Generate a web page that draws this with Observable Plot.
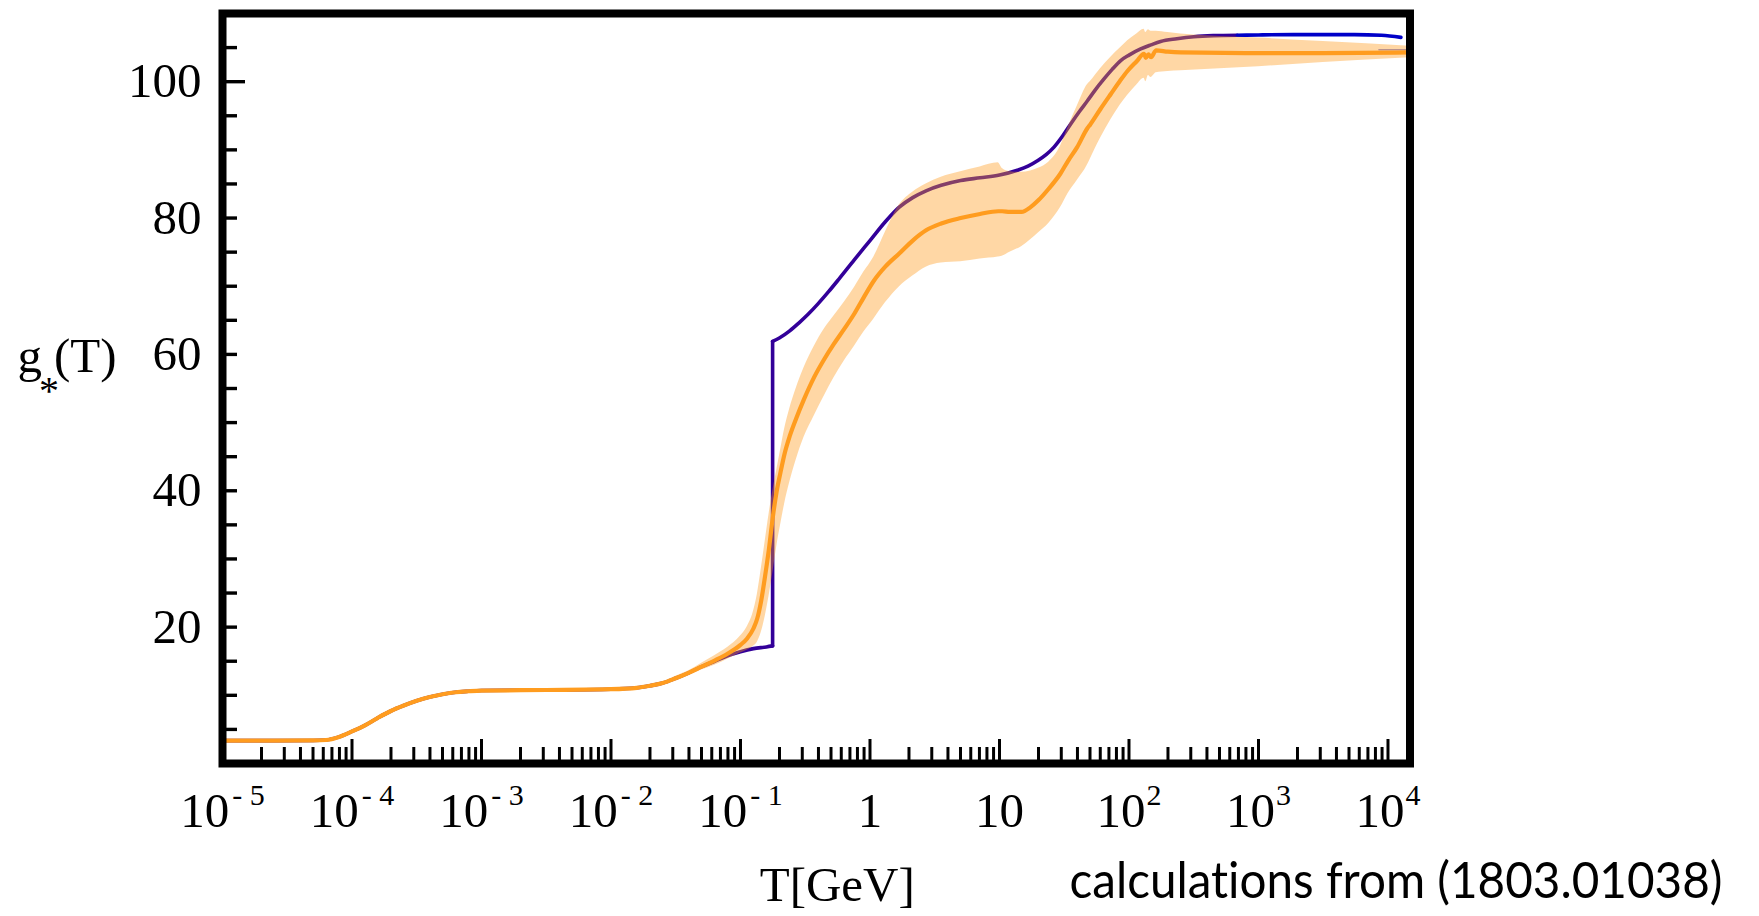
<!DOCTYPE html>
<html>
<head>
<meta charset="utf-8">
<script src="https://cdn.jsdelivr.net/npm/d3@7"></script>
<script src="https://cdn.jsdelivr.net/npm/@observablehq/plot@0.6"></script>
<style>
  html, body { margin: 0; padding: 0; background: #fff; }
  #chart { width: 1759px; height: 916px; }
</style>
</head>
<body>
<div id="chart"></div>
<script>
// Effective number of relativistic degrees of freedom g*(T) versus temperature.
// Standard Model curve with a sharp QCD step, and the lattice-based estimate with its band.

// Standard Model curve (log10 T in GeV, g*) – the repeated temperature is the QCD jump
const blueLogT = [-5.0, -4.6, -4.3, -4.2, -4.1, -4.0, -3.9, -3.8, -3.7, -3.6, -3.5, -3.4, -3.3, -3.2, -3.1, -3.0,
  -2.5, -2.0, -1.8, -1.7, -1.6, -1.5, -1.4, -1.3, -1.2, -1.1, -1.0, -0.9, -0.8, -0.752, -0.752,
  -0.70, -0.62, -0.55, -0.48, -0.40, -0.32, -0.24, -0.12, 0.0, 0.12, 0.226, 0.33, 0.433, 0.55, 0.70, 0.85,
  1.0, 1.138, 1.22, 1.293, 1.36, 1.421, 1.49, 1.55, 1.62, 1.679, 1.74, 1.807, 1.87, 1.936, 2.0, 2.09,
  2.17, 2.244, 2.37, 2.50, 2.65, 2.836];
const blueG = [3.36, 3.36, 3.38, 3.45, 3.9, 4.7, 5.6, 6.7, 7.7, 8.5, 9.2, 9.75, 10.15, 10.45, 10.6, 10.7,
  10.78, 10.9, 11.1, 11.4, 11.8, 12.5, 13.3, 14.2, 15.0, 15.8, 16.4, 16.85, 17.1, 17.25, 61.9,
  62.4, 63.45, 64.6, 65.85, 67.45, 69.2, 71.05, 73.9, 76.7, 79.5, 81.6, 83.0, 84.0, 84.8, 85.5, 85.9,
  86.3, 87.0, 87.6, 88.4, 89.3, 90.4, 92.1, 93.8, 95.7, 97.2, 98.8, 100.4, 101.8, 103.1, 103.9, 104.8,
  105.4, 105.9, 106.3, 106.6, 106.75, 106.8];

// High-temperature continuation of the Standard Model curve
const blueHighLogT = [2.836, 3.0, 3.27, 3.5, 3.74, 3.95, 4.1];
const blueHighG = [106.8, 106.85, 106.9, 106.9, 106.9, 106.8, 106.5];

// Short faint segment near the top end
const tailLogT = [3.93, 4.17];
const tailG = [104.7, 104.7];

// Lattice-based estimate: central value and lower/upper edges of the band
const orangeLogT = [-5.0, -4.6, -4.3, -4.2, -4.1, -4.0, -3.9, -3.8, -3.7, -3.6, -3.5, -3.4, -3.3, -3.2, -3.1, -3.0,
  -2.5, -2.0, -1.8, -1.7, -1.6, -1.5, -1.4, -1.3, -1.2, -1.1, -1.0, -0.95, -0.90, -0.87, -0.84, -0.81,
  -0.78, -0.75, -0.72, -0.69, -0.66, -0.62, -0.57, -0.51, -0.43, -0.35, -0.28, -0.20, -0.12, -0.05,
  0.03, 0.12, 0.226, 0.33, 0.433, 0.55, 0.70, 0.85, 0.99, 1.02, 1.08, 1.17, 1.24, 1.30, 1.38, 1.47,
  1.53, 1.60, 1.68, 1.70, 1.78, 1.86, 1.93, 1.99, 2.06, 2.116, 2.13, 2.15, 2.17, 2.21, 2.30, 2.40,
  3.0, 3.5, 4.17];
const orangeMid = [3.36, 3.36, 3.38, 3.45, 3.9, 4.7, 5.6, 6.7, 7.7, 8.5, 9.2, 9.75, 10.15, 10.45, 10.6, 10.7,
  10.78, 10.9, 11.1, 11.4, 11.8, 12.5, 13.3, 14.2, 15.1, 16.1, 17.4, 18.3, 19.8, 21.3, 23.9, 27.5,
  31.5, 36.2, 40.0, 42.8, 45.4, 48.0, 50.6, 53.4, 56.7, 59.4, 61.5, 63.7, 66.0, 68.3,
  70.8, 72.9, 74.8, 76.7, 78.2, 79.2, 80.0, 80.6, 81.0, 81.0, 80.9, 80.9, 81.6, 82.6, 84.3, 86.5,
  88.4, 90.4, 93.2, 93.7, 96.0, 98.2, 100.1, 101.6, 103.0, 104.1, 103.5, 104.0, 103.6, 104.6, 104.4, 104.3,
  104.2, 104.2, 104.3];
const orangeLo = [3.36, 3.36, 3.38, 3.45, 3.9, 4.7, 5.6, 6.7, 7.7, 8.5, 9.2, 9.75, 10.15, 10.45, 10.6, 10.7,
  10.78, 10.9, 11.05, 11.3, 11.6, 12.2, 13.0, 13.7, 14.4, 15.3, 16.2, 16.6, 17.2, 17.8, 19.2, 21.5,
  24.5, 28.0, 31.8, 35.0, 38.0, 41.2, 44.5, 47.8, 51.0, 54.0, 56.5, 59.0, 61.2, 63.2,
  65.2, 67.6, 69.9, 71.5, 72.8, 73.4, 73.6, 74.0, 74.3, 74.4, 75.0, 75.8, 76.8, 77.8, 79.2, 81.5,
  83.6, 85.5, 87.8, 88.6, 91.7, 94.4, 96.5, 98.0, 99.5, 100.5, 100.0, 100.9, 100.6, 101.3, 101.5, 101.6,
  102.2, 102.8, 103.5];
const orangeHi = [3.36, 3.36, 3.38, 3.45, 3.9, 4.7, 5.6, 6.7, 7.7, 8.5, 9.2, 9.75, 10.15, 10.45, 10.6, 10.7,
  10.78, 10.9, 11.15, 11.5, 12.0, 12.8, 13.6, 14.7, 15.8, 17.0, 18.7, 20.0, 22.3, 24.8, 28.5, 32.5,
  36.5, 40.0, 43.0, 46.0, 49.0, 52.0, 55.0, 58.0, 61.2, 63.8, 65.6, 67.6, 69.8, 72.0,
  74.3, 78.0, 81.9, 83.8, 85.0, 86.0, 86.8, 87.5, 88.1, 87.3, 86.8, 86.7, 86.9, 87.3, 88.2, 90.5,
  93.3, 96.4, 99.6, 100.0, 101.9, 103.6, 104.9, 106.0, 107.0, 107.7, 107.2, 107.6, 107.4, 107.4, 107.2, 107.0,
  106.4, 105.9, 105.2];

// Axes
const xDecades = [-5, -4, -3, -2, -1, 0, 1, 2, 3, 4];
const xTickLabels = ["10^{- 5}", "10^{- 4}", "10^{- 3}", "10^{- 2}", "10^{- 1}", "1", "10", "10^{2}", "10^{3}", "10^{4}"];
const yTickValues = [20, 40, 60, 80, 100];
const yLongTicks = [100];
const yLabel = "g_{*}(T)";
const xLabel = "T[GeV]";
const caption = "calculations from (1803.01038)";

// Layout
const W = 1759, H = 916;
const mLeft = 222, mRight = 349.5, mTop = 13, mBottom = 153;
const innerW = W - mLeft - mRight;
const innerH = H - mTop - mBottom;

// Build rows
const blueRows = [];
let seg = 0;
blueLogT.forEach((t, i) => {
  if (i > 0 && t === blueLogT[i - 1]) {
    // the jump is drawn as its own vertical piece
    seg++;
    blueRows.push({T: 10 ** t, g: blueG[i - 1], seg});
    blueRows.push({T: 10 ** t, g: blueG[i], seg});
    seg++;
  }
  blueRows.push({T: 10 ** t, g: blueG[i], seg});
});
const blueHighRows = blueHighLogT.map((t, i) => ({T: 10 ** t, g: blueHighG[i]}));
const tailRows = tailLogT.map((t, i) => ({T: 10 ** t, g: tailG[i]}));
const orangeRows = orangeLogT.map((t, i) => ({T: 10 ** t, mid: orangeMid[i], lo: orangeLo[i], hi: orangeHi[i]}));

const xMajor = xDecades.map(k => 10 ** k);
const xMinor = [];
for (const k of xDecades.slice(0, -1)) for (let m = 2; m <= 9; m++) xMinor.push(m * 10 ** k);
const yMinor = d3.range(5, 110, 5).filter(v => !yLongTicks.includes(v));
const labelOf = new Map(xMajor.map((v, i) => [v, xTickLabels[i]]));

const orange = "#ff9c1f";

const chart = Plot.plot({
  width: W,
  height: H,
  marginLeft: mLeft,
  marginRight: mRight,
  marginTop: mTop,
  marginBottom: mBottom,
  style: {
    background: "white",
    color: "black",
    fontFamily: "'Liberation Serif', 'Times New Roman', serif",
    fontSize: "49px"
  },
  x: {
    type: "log",
    domain: [1e-5, 10 ** 4.17],
    ticks: xMajor,
    tickFormat: v => labelOf.get(v) ?? "",
    tickSize: 0,
    tickPadding: 29,
    label: null
  },
  y: {
    domain: [0, 110],
    ticks: yTickValues,
    tickSize: 0,
    tickPadding: 21,
    label: null
  },
  marks: [
    Plot.line(blueRows, {x: "T", y: "g", z: "seg", stroke: "#330099", strokeWidth: 3.6, curve: "monotone-x", clip: true}),
    Plot.line(blueHighRows, {x: "T", y: "g", stroke: "#0000c8", strokeWidth: 3.6, curve: "monotone-x", clip: true}),
    Plot.line(tailRows, {x: "T", y: "g", stroke: "#8c8cd8", strokeWidth: 1.5, clip: true}),
    Plot.areaY(orangeRows, {x: "T", y1: "lo", y2: "hi", fill: orange, fillOpacity: 0.4, curve: "monotone-x", clip: true}),
    Plot.line(orangeRows, {x: "T", y: "mid", stroke: orange, strokeWidth: 4.2, curve: "monotone-x", clip: true}),
    // inward ticks
    Plot.tickX(xMinor, {x: d => d, stroke: "black", strokeWidth: 3, insetTop: innerH - 16}),
    Plot.tickX(xMajor, {x: d => d, stroke: "black", strokeWidth: 3, insetTop: innerH - 24}),
    Plot.tickY(yMinor, {y: d => d, stroke: "black", strokeWidth: 3.4, insetRight: innerW - 15}),
    Plot.tickY(yLongTicks, {y: d => d, stroke: "black", strokeWidth: 3.4, insetRight: innerW - 23}),
    Plot.frame({stroke: "black", strokeWidth: 8}),
    // titles
    Plot.text([yLabel], {frameAnchor: "left", text: d => d, textAnchor: "start", lineAnchor: "bottom", dx: -205, dy: -17, fontSize: 49}),
    Plot.text([xLabel], {frameAnchor: "bottom", text: d => d, lineAnchor: "bottom", dx: 21, dy: 137, fontSize: 49}),
    Plot.text([caption], {frameAnchor: "bottom-right", text: d => d, textAnchor: "end", lineAnchor: "bottom",
      dx: 312.5, dy: 134, fontFamily: "Lato, 'Open Sans', sans-serif", fontSize: 50})
  ]
});

// Turn ^{...} and _{...} markup into raised / lowered tspans
function enrich(svg) {
  const NS = "http://www.w3.org/2000/svg";
  svg.querySelectorAll("text").forEach(t => {
    const src = t.textContent;
    if (!/[\^_]\{/.test(src)) return;
    t.textContent = "";
    let shift = 0, prev = null;
    for (const p of src.match(/[\^_]\{[^}]*\}|[^\^_]+/g)) {
      const ts = document.createElementNS(NS, "tspan");
      if (p[0] === "^") {
        const body = p.slice(2, -1);
        ts.textContent = body;
        ts.setAttribute("font-size", 30);
        ts.setAttribute("dy", -22 - shift); shift = -22;
        ts.setAttribute("dx", body.startsWith("-") ? 3 : 1);
        prev = "^";
      } else if (p[0] === "_") {
        ts.textContent = p.slice(2, -1);
        ts.setAttribute("font-size", 40);
        ts.setAttribute("dy", 32 - shift); shift = 32;
        ts.setAttribute("dx", -3);
        prev = "_";
      } else {
        ts.textContent = p;
        if (shift) {
          ts.setAttribute("dy", -shift);
          if (prev === "_") ts.setAttribute("dx", -5);
          shift = 0;
        }
        prev = null;
      }
      t.appendChild(ts);
    }
  });
}

enrich(chart);
document.getElementById("chart").appendChild(chart);

// Fit the source note to its line width
const capText = Array.from(chart.querySelectorAll("text")).find(t => t.textContent === caption);
if (capText) {
  capText.style.fontVariantLigatures = "none";
  capText.setAttribute("textLength", 653);
  capText.setAttribute("lengthAdjust", "spacingAndGlyphs");
}
</script>
</body>
</html>
